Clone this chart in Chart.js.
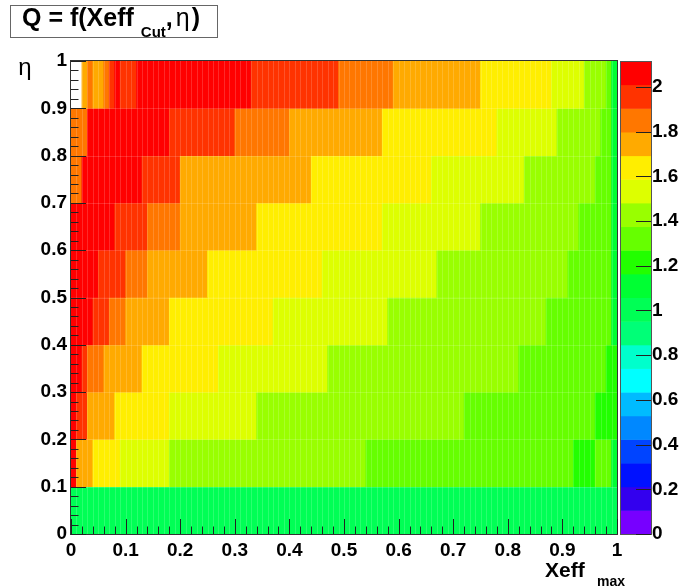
<!DOCTYPE html>
<html>
<head>
<meta charset="utf-8">
<script src="https://cdn.jsdelivr.net/npm/chart.js@4.4.1/dist/chart.umd.min.js"></script>
<style>
  html, body { margin: 0; padding: 0; background: #fff; }
  #wrap { width: 687px; height: 588px; }
</style>
</head>
<body>
<div id="wrap"><canvas id="hist" width="687" height="588"></canvas></div>
<script>
// eta rows (bin centres, width 0.1)
const etaCenters = [0.05, 0.15, 0.25, 0.35, 0.45, 0.55, 0.65, 0.75, 0.85, 0.95];

// Q along Xeff for each eta row : [xeffFrom, xeffTo, Q]
const qEta0 = [[0, 1, 1.01]];
const qEta1 = [[0, 0.01, 2.06], [0.01, 0.04, 1.74], [0.04, 0.09, 1.64], [0.09, 0.18, 1.53], [0.18, 0.54, 1.43],
  [0.54, 0.92, 1.32], [0.92, 0.96, 1.22], [0.96, 0.99, 1.32], [0.99, 1, 1.11]];
const qEta2 = [[0, 0.01, 2.06], [0.01, 0.03, 1.96], [0.03, 0.08, 1.74], [0.08, 0.18, 1.64], [0.18, 0.34, 1.53],
  [0.34, 0.72, 1.43], [0.72, 0.96, 1.32], [0.96, 1, 1.22]];
const qEta3 = [[0, 0.02, 2.06], [0.02, 0.03, 1.96], [0.03, 0.06, 1.85], [0.06, 0.13, 1.74], [0.13, 0.27, 1.64],
  [0.27, 0.47, 1.53], [0.47, 0.82, 1.43], [0.82, 0.98, 1.32], [0.98, 1, 1.22]];
const qEta4 = [[0, 0.04, 2.06], [0.04, 0.07, 1.96], [0.07, 0.10, 1.85], [0.10, 0.18, 1.74], [0.18, 0.37, 1.64],
  [0.37, 0.58, 1.53], [0.58, 0.87, 1.43], [0.87, 0.99, 1.32], [0.99, 1, 1.11]];
const qEta5 = [[0, 0.05, 2.06], [0.05, 0.10, 1.96], [0.10, 0.14, 1.85], [0.14, 0.25, 1.74], [0.25, 0.46, 1.64],
  [0.46, 0.67, 1.53], [0.67, 0.91, 1.43], [0.91, 0.99, 1.32], [0.99, 1, 1.11]];
const qEta6 = [[0, 0.08, 2.06], [0.08, 0.14, 1.96], [0.14, 0.20, 1.85], [0.20, 0.34, 1.74], [0.34, 0.57, 1.64],
  [0.57, 0.75, 1.53], [0.75, 0.93, 1.43], [0.93, 0.99, 1.32], [0.99, 1, 1.11]];
const qEta7 = [[0, 0.02, 1.85], [0.02, 0.13, 2.06], [0.13, 0.20, 1.96], [0.20, 0.44, 1.74], [0.44, 0.66, 1.64],
  [0.66, 0.83, 1.53], [0.83, 0.96, 1.43], [0.96, 0.99, 1.32], [0.99, 1, 1.11]];
const qEta8 = [[0, 0.03, 1.85], [0.03, 0.18, 2.06], [0.18, 0.30, 1.96], [0.30, 0.40, 1.85], [0.40, 0.57, 1.74],
  [0.57, 0.78, 1.64], [0.78, 0.89, 1.53], [0.89, 0.97, 1.43], [0.97, 0.99, 1.32], [0.99, 1, 1.11]];
const qEta9 = [[0.02, 0.03, 1.74], [0.03, 0.04, 1.85], [0.04, 0.06, 1.74], [0.06, 0.07, 1.85], [0.07, 0.08, 1.96],
  [0.08, 0.09, 2.06], [0.09, 0.12, 1.96], [0.12, 0.33, 2.06], [0.33, 0.49, 1.96], [0.49, 0.59, 1.85],
  [0.59, 0.75, 1.74], [0.75, 0.88, 1.64], [0.88, 0.94, 1.53], [0.94, 0.98, 1.43], [0.98, 0.99, 1.32], [0.99, 1, 1.11]];
const qRows = [qEta0, qEta1, qEta2, qEta3, qEta4, qEta5, qEta6, qEta7, qEta8, qEta9];

// tick labels
const xTickValues = [0, 0.1, 0.2, 0.3, 0.4, 0.5, 0.6, 0.7, 0.8, 0.9, 1];
const yTickValues = [0, 0.1, 0.2, 0.3, 0.4, 0.5, 0.6, 0.7, 0.8, 0.9, 1];
const zTickValues = [0, 0.2, 0.4, 0.6, 0.8, 1, 1.2, 1.4, 1.6, 1.8, 2];

// colour palette (20 contour levels, bottom to top)
const zMin = 0;
const zMax = 2.116;
const paletteColors = ['#7700ff', '#3300ee', '#0011ff', '#0044ff', '#0088ff', '#00bbff', '#00ffff', '#00ffcc',
  '#00ff77', '#00ff55', '#00ff33', '#22ff00', '#66ff00', '#99ff00', '#ddff00', '#ffee00', '#ffaa00', '#ff7700',
  '#ff3300', '#ff0000'];

const FONT = '"Liberation Sans", Arial, Helvetica, sans-serif';

function colorFor(q) {
  let k = Math.floor((q - zMin) / (zMax - zMin) * paletteColors.length);
  k = Math.max(0, Math.min(paletteColors.length - 1, k));
  return paletteColors[k];
}

const cells = [];
qRows.forEach((row, i) => {
  row.forEach(([a, b, q]) => cells.push({ x: [a, b], y: etaCenters[i], q: q }));
});

function setTicks(values) {
  return scale => { scale.ticks = values.map(v => ({ value: v })); };
}
const fmt = v => String(+Number(v).toFixed(2));

// ROOT style decorations: inner ticks, frame, palette, titles
const rootDecor = {
  id: 'rootDecor',
  afterDraw(chart) {
    const ctx = chart.ctx;
    const ca = chart.chartArea;
    const xs = chart.scales.x, ys = chart.scales.y, zs = chart.scales.z;
    ctx.save();

    // light seams between bins
    ctx.lineWidth = 1;
    ctx.strokeStyle = 'rgba(255,255,255,0.16)';
    for (let i = 1; i < 100; i++) {
      const px = Math.round(xs.getPixelForValue(i / 100)) + 0.5;
      ctx.beginPath(); ctx.moveTo(px, ca.top); ctx.lineTo(px, ca.bottom); ctx.stroke();
    }
    for (let i = 1; i < 10; i++) {
      const py = Math.round(ys.getPixelForValue(i / 10)) + 0.5;
      ctx.beginPath(); ctx.moveTo(ca.left, py); ctx.lineTo(ca.right, py); ctx.stroke();
    }

    // frame
    ctx.strokeStyle = '#333';
    ctx.strokeRect(ca.left - 0.5, ca.top - 0.5, ca.right - ca.left + 1, ca.bottom - ca.top + 1);

    // inner ticks
    ctx.strokeStyle = '#222';
    for (let i = 0; i <= 50; i++) {
      const len = i % 5 === 0 ? 15 : 7.5;
      const px = Math.round(xs.getPixelForValue(i / 50)) + 0.5;
      ctx.beginPath(); ctx.moveTo(px, ca.bottom); ctx.lineTo(px, ca.bottom - len); ctx.stroke();
      const py = Math.round(ys.getPixelForValue(i / 50)) + 0.5;
      ctx.beginPath(); ctx.moveTo(ca.left, py); ctx.lineTo(ca.left + len, py); ctx.stroke();
    }

    // palette axis
    const bl = ca.right + 3, br = ca.right + 34;
    const dz = (zMax - zMin) / paletteColors.length;
    paletteColors.forEach((c, k) => {
      const y0 = zs.getPixelForValue(zMin + k * dz);
      const y1 = zs.getPixelForValue(zMin + (k + 1) * dz);
      ctx.fillStyle = c;
      ctx.fillRect(bl, y1, br - bl, y0 - y1 + 0.5);
    });
    ctx.strokeStyle = '#555';
    ctx.strokeRect(bl + 0.5, zs.top + 0.5, br - bl, zs.bottom - zs.top);
    ctx.strokeStyle = '#222';
    zTickValues.forEach(v => {
      const py = Math.round(zs.getPixelForValue(v)) + 0.5;
      ctx.beginPath(); ctx.moveTo(br, py); ctx.lineTo(br - 15, py); ctx.stroke();
    });

    // title box
    ctx.fillStyle = '#fff';
    ctx.fillRect(10, 5, 208, 32);
    ctx.strokeStyle = '#666';
    ctx.strokeRect(10.5, 5.5, 207, 32);
    ctx.fillStyle = '#000';
    ctx.textBaseline = 'alphabetic';
    ctx.textAlign = 'left';
    let tx = 22;
    ctx.font = 'bold 25px ' + FONT;
    ctx.fillText('Q = f(Xeff', tx, 26);
    tx += ctx.measureText('Q = f(Xeff').width + 7;
    ctx.font = 'bold 15px ' + FONT;
    ctx.fillText('Cut', tx, 37);
    tx += ctx.measureText('Cut').width;
    ctx.font = 'bold 25px ' + FONT;
    ctx.fillText(',', tx, 26);
    tx += ctx.measureText(',').width + 3;
    ctx.font = '25px ' + FONT;
    ctx.fillText('\u03b7', tx, 26);
    tx += ctx.measureText('\u03b7').width + 2;
    ctx.font = 'bold 25px ' + FONT;
    ctx.fillText(')', tx, 26);

    // axis titles
    ctx.font = '24px ' + FONT;
    ctx.textAlign = 'center';
    ctx.fillText('\u03b7', 25, 75);
    ctx.textAlign = 'left';
    ctx.font = 'bold 21px ' + FONT;
    ctx.fillText('Xeff', 545, 577);
    ctx.font = 'bold 14px ' + FONT;
    ctx.fillText('max', 597, 586);

    ctx.restore();
  }
};

const tickFont = { family: FONT, size: 19, weight: 'bold' };

new Chart(document.getElementById('hist'), {
  type: 'bar',
  data: {
    datasets: [{
      data: cells,
      backgroundColor: c => colorFor(c.raw.q),
      borderWidth: 0,
      barPercentage: 1,
      categoryPercentage: 1
    }]
  },
  options: {
    indexAxis: 'y',
    responsive: false,
    animation: false,
    layout: { padding: { top: 61, left: 0, right: 0, bottom: 0 } },
    plugins: { legend: { display: false }, tooltip: { enabled: false }, title: { display: false } },
    scales: {
      x: {
        type: 'linear', position: 'bottom', min: 0, max: 1, offset: false,
        afterBuildTicks: setTicks(xTickValues),
        afterFit: s => { s.height = 54; },
        grid: { display: false, drawTicks: false }, border: { display: false },
        ticks: { font: tickFont, color: '#000', padding: 5, maxRotation: 0, autoSkip: false, callback: fmt }
      },
      y: {
        type: 'linear', position: 'left', min: 0, max: 1, offset: false,
        afterBuildTicks: setTicks(yTickValues),
        afterFit: s => { s.width = 71; },
        grid: { display: false, drawTicks: false }, border: { display: false },
        ticks: { font: tickFont, color: '#000', padding: 4, autoSkip: false, callback: fmt }
      },
      z: {
        type: 'linear', axis: 'y', position: 'right', min: zMin, max: zMax, offset: false,
        afterBuildTicks: setTicks(zTickValues),
        afterFit: s => { s.width = 70; },
        grid: { display: false, drawTicks: false }, border: { display: false },
        ticks: { font: tickFont, color: '#000', padding: 35, autoSkip: false, callback: fmt }
      }
    }
  },
  plugins: [rootDecor]
});
</script>
</body>
</html>
